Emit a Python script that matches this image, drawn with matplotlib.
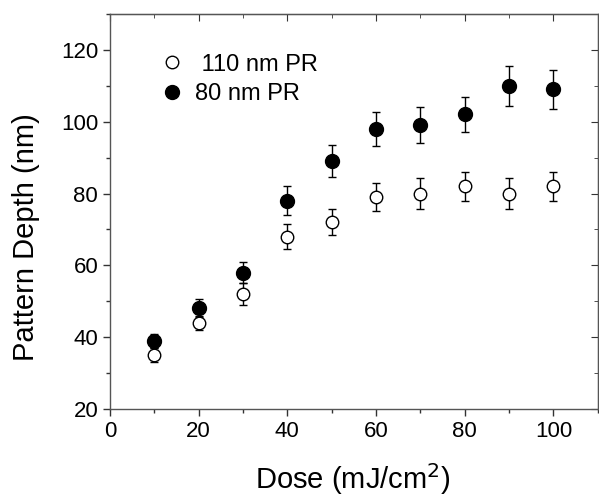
import numpy as np
import matplotlib.pyplot as plt
from matplotlib.lines import Line2D
from matplotlib.ticker import MultipleLocator, NullFormatter

plt.rcParams["font.family"] = ["Liberation Sans", "DejaVu Sans"]

# --------------------------------
# Data
# --------------------------------

dose = [10, 20, 30, 40, 50, 60, 70, 80, 90, 100]

depth_110 = [35, 44, 52, 68, 72, 79, 80, 82, 80, 82]
err_110 = [2, 2, 3, 3.5, 3.6, 4, 4.2, 4, 4.2, 4]

depth_80 = [39, 48, 58, 78, 89, 98, 99, 102, 110, 109]
err_80 = [2, 2.5, 3, 4, 4.4, 4.7, 5, 5, 5.5, 5.5]

labels = [" 110 nm PR", "80 nm PR"]

# --------------------------------
# Plot
# --------------------------------

fig = plt.figure(figsize=(5.99, 4.97), dpi=100)
ax = fig.add_axes([0.1836, 0.177, 0.8144, 0.795])

ax.errorbar(dose, depth_110, yerr=err_110, fmt="o", mfc="white", mec="black",
            ms=9, mew=1, ecolor="black", elinewidth=1, capsize=3, capthick=1)
ax.errorbar(dose, depth_80, yerr=err_80, fmt="o", mfc="black", mec="black",
            ms=10, ecolor="black", elinewidth=1, capsize=3, capthick=1)

ax.set_xlim(0, 110)
ax.set_ylim(20, 130)
ax.set_xticks([0, 20, 40, 60, 80, 100])
ax.set_yticks([20, 40, 60, 80, 100, 120])
ax.xaxis.set_minor_locator(MultipleLocator(10))
ax.yaxis.set_minor_locator(MultipleLocator(10))

ax.tick_params(which="both", direction="out", width=1, labelsize=16, color="#333333")
ax.tick_params(which="major", length=5)
ax.tick_params(which="minor", length=3)

for s in ax.spines.values():
    s.set_color("#555555")
    s.set_linewidth(1)

# mirrored ticks pointing inward on top and right
top = ax.secondary_xaxis("top")
top.set_xticks([0, 20, 40, 60, 80, 100])
top.xaxis.set_minor_locator(MultipleLocator(10))
top.xaxis.set_major_formatter(NullFormatter())
top.tick_params(which="both", direction="in", color="#333333")
top.tick_params(which="major", length=5)
top.tick_params(which="minor", length=3)

right = ax.secondary_yaxis("right")
right.set_yticks([20, 40, 60, 80, 100, 120])
right.yaxis.set_minor_locator(MultipleLocator(10))
right.yaxis.set_major_formatter(NullFormatter())
right.tick_params(which="both", direction="in", color="#333333")
right.tick_params(which="major", length=5)
right.tick_params(which="minor", length=3)

ax.set_xlabel("Dose (mJ/cm$^2$)", fontsize=21)
ax.set_ylabel("Pattern Depth (nm)", fontsize=21)
ax.xaxis.set_label_coords(0.498, -0.133)
ax.yaxis.set_label_coords(-0.143, 0.435)

handles = [
    Line2D([], [], ls="none", marker="o", mfc="white", mec="black", ms=9, mew=1),
    Line2D([], [], ls="none", marker="o", mfc="black", mec="black", ms=10),
]
ax.legend(handles, labels, loc="upper left", bbox_to_anchor=(0.054, 0.953),
          frameon=False, fontsize=17, handletextpad=0.4, labelspacing=0.3,
          handlelength=1.2)

fig.savefig("out.png", dpi=100)
